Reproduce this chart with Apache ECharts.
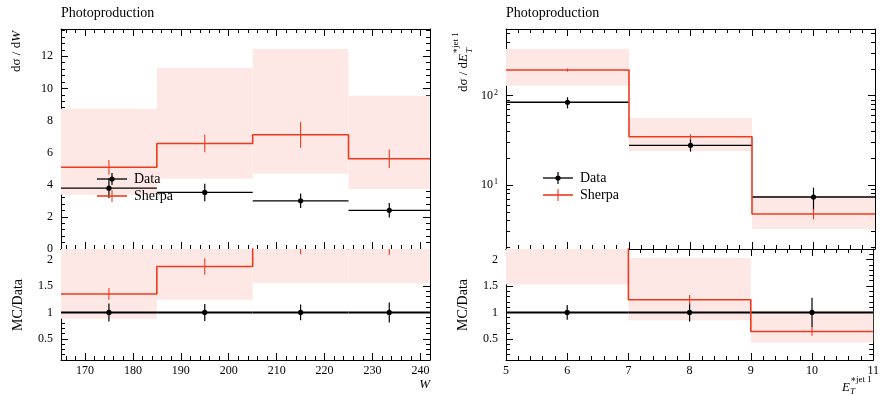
<!DOCTYPE html>
<html>
<head>
<meta charset="utf-8">
<script src="https://cdn.jsdelivr.net/npm/echarts@6.0.0/dist/echarts.min.js"></script>
<style>html,body{margin:0;padding:0;background:#fff;}#c{width:882px;height:395px;}</style>
</head>
<body>
<div id="c"></div>
<script>
// ---------- Left panel: dσ/dW ----------
const W_edges = [165, 185, 205, 225, 242];
const W_centers = [175, 195, 215, 233.5];
const W_data = [3.79, 3.52, 3.00, 2.41];
const W_data_err = [0.62, 0.55, 0.45, 0.45];
const W_sherpa = [5.09, 6.57, 7.11, 5.62];
const W_sherpa_err = [0.45, 0.55, 0.80, 0.58];
const W_band_lo = [3.38, 4.37, 4.68, 3.73];
const W_band_hi = [8.74, 11.27, 12.45, 9.54];
const W_ratio_data_err = [0.17, 0.16, 0.15, 0.19];
const W_ratio_sherpa = [1.35, 1.87, 2.37, 2.33];
const W_ratio_sherpa_err = [0.11, 0.155, 0.27, 0.24];
const W_ratio_band_lo = [0.88, 1.24, 1.55, 1.55];
const W_ratio_band_hi = [2.30, 3.20, 4.10, 3.96];
const W_xticks = [170, 180, 190, 200, 210, 220, 230, 240];
const W_yticks = [0, 2, 4, 6, 8, 10, 12];

// ---------- Right panel: dσ/dE_T ----------
const ET_edges = [5, 7, 9, 11];
const ET_centers = [6, 8, 10];
const ET_data = [84.4, 27.8, 7.34];
const ET_data_lo = [72, 23.6, 5.25];
const ET_data_hi = [96, 32.5, 9.33];
const ET_sherpa = [194, 34.7, 4.73];
const ET_sherpa_lo = [186, 32.5, 4.13];
const ET_sherpa_hi = [202, 37.0, 5.35];
const ET_band_lo = [129, 24.0, 3.21];
const ET_band_hi = [333, 56.3, 7.6];
const ET_ratio_data_err = [0.14, 0.17, 0.28];
const ET_ratio_sherpa = [2.30, 1.24, 0.64];
const ET_ratio_sherpa_err = [0.06, 0.09, 0.08];
const ET_ratio_band_lo = [1.53, 0.85, 0.43];
const ET_ratio_band_hi = [3.90, 2.03, 1.03];
const ET_xticks = [5, 6, 7, 8, 9, 10, 11];
const ET_yticks = [10, 100];

const R_yticks = [0.5, 1, 1.5, 2];

const RED = '#ee3a1c';
const BAND = '#fde8e6';
const FONT = '"Liberation Serif", "DejaVu Serif", serif';

function range(a, b, step, skipEvery) {
  const out = [];
  const n = Math.round((b - a) / step);
  for (let i = 0; i <= n; i++) {
    const v = +(a + i * step).toFixed(6);
    if (skipEvery && Math.abs(v / skipEvery - Math.round(v / skipEvery)) < 1e-6) continue;
    out.push(v);
  }
  return out;
}

const xAxes = [], yAxes = [];
// returns index of the main (first) axis
function addAxes(list, dim, grid, type, min, max, majors, minors, label) {
  const sides = dim === 'x' ? ['bottom', 'top'] : ['left', 'right'];
  let mainIdx = -1;
  sides.forEach((side, si) => {
    const base = { type: type, gridIndex: grid, position: side, min: min, max: max,
      splitLine: { show: false }, axisPointer: { show: false } };
    if (type === 'log') base.logBase = 10;
    const major = Object.assign({}, base, {
      axisLine: { show: true, onZero: false, lineStyle: { color: '#000', width: 1 } },
      axisTick: { show: true, inside: true, length: 7, customValues: majors, lineStyle: { color: '#000', width: 1 } },
      axisLabel: (si === 0 && label) ? label : { show: false }
    });
    const minor = Object.assign({}, base, {
      axisLine: { show: false, onZero: false },
      axisTick: { show: true, inside: true, length: 4, customValues: minors, lineStyle: { color: '#000', width: 1 } },
      axisLabel: { show: false }
    });
    if (si === 0) mainIdx = list.length;
    list.push(major, minor);
  });
  return mainIdx;
}

const labelBase = { show: true, color: '#000', fontFamily: FONT, fontSize: 12 };
const grids = [
  { left: 61, top: 29, width: 369, height: 220 },
  { left: 61, top: 249, width: 369, height: 111 },
  { left: 506, top: 29, width: 369, height: 220 },
  { left: 506, top: 249, width: 369, height: 111 }
];

const fmtNum = v => String(+v.toFixed(2));
const ratioLabel = Object.assign({}, labelBase, { margin: 8, customValues: R_yticks, formatter: fmtNum });

// Left main
const xL0 = addAxes(xAxes, 'x', 0, 'value', 165, 242, W_xticks, range(166, 240, 2, 10), null);
const yL0 = addAxes(yAxes, 'y', 0, 'value', 0, 13.7, W_yticks, range(0, 13.6, 0.4, 2),
  Object.assign({}, labelBase, { margin: 8, customValues: W_yticks, formatter: fmtNum }));
// Left ratio
const xL1 = addAxes(xAxes, 'x', 1, 'value', 165, 242, W_xticks, range(166, 240, 2, 10),
  Object.assign({}, labelBase, { margin: 5, customValues: W_xticks, formatter: fmtNum }));
const yL1 = addAxes(yAxes, 'y', 1, 'value', 0.1, 2.2, R_yticks, range(0.1, 2.2, 0.1, 0.5), ratioLabel);
// Right main
const logMinors = [2,3,4,5,6,7,8,9,20,30,40,50,60,70,80,90,200,300,400,500];
const xR0 = addAxes(xAxes, 'x', 2, 'value', 5, 11, ET_xticks, range(5, 11, 0.2, 1), null);
const yR0 = addAxes(yAxes, 'y', 2, 'log', 1.92, 558, ET_yticks, logMinors,
  Object.assign({}, labelBase, { margin: 8, customValues: ET_yticks,
    formatter: v => '{n|10}{s|' + Math.round(Math.log10(v)) + '}',
    rich: { n: { fontFamily: FONT, fontSize: 12, color: '#000' },
            s: { fontFamily: FONT, fontSize: 8, color: '#000', verticalAlign: 'top', padding: [0, 0, 6, 1] } } }));
// Right ratio
const xR1 = addAxes(xAxes, 'x', 3, 'value', 5, 11, ET_xticks, range(5, 11, 0.2, 1),
  Object.assign({}, labelBase, { margin: 5, customValues: ET_xticks, formatter: fmtNum }));
const yR1 = addAxes(yAxes, 'y', 3, 'value', 0.1, 2.2, R_yticks, range(0.1, 2.2, 0.1, 0.5), ratioLabel);

// ---------- series builders ----------
function bandSeries(xi, yi, edges, lo, hi) {
  return {
    type: 'custom', xAxisIndex: xi, yAxisIndex: yi, clip: true, z: 1, silent: true,
    data: lo.map((l, i) => [edges[i], edges[i + 1], l, hi[i]]),
    renderItem: (p, api) => {
      const a = api.coord([api.value(0), api.value(3)]);
      const b = api.coord([api.value(1), api.value(2)]);
      return { type: 'rect', shape: { x: a[0], y: a[1], width: b[0] - a[0], height: b[1] - a[1] },
        style: { fill: BAND } };
    }
  };
}
function dataSeries(xi, yi, edges, centers, vals, lo, hi, lw) {
  return {
    type: 'custom', xAxisIndex: xi, yAxisIndex: yi, clip: true, z: 3, silent: true,
    data: vals.map((v, i) => [edges[i], edges[i + 1], centers[i], v, lo[i], hi[i]]),
    renderItem: (p, api) => {
      const v = api.value(3), c = api.value(2);
      const h0 = api.coord([api.value(0), v]), h1 = api.coord([api.value(1), v]);
      const e0 = api.coord([c, api.value(4)]), e1 = api.coord([c, api.value(5)]);
      const pc = api.coord([c, v]);
      return { type: 'group', children: [
        { type: 'line', shape: { x1: h0[0], y1: h0[1], x2: h1[0], y2: h1[1] }, style: { stroke: '#000', lineWidth: lw } },
        { type: 'line', shape: { x1: e0[0], y1: e0[1], x2: e1[0], y2: e1[1] }, style: { stroke: '#000', lineWidth: 1.2 } },
        { type: 'circle', shape: { cx: pc[0], cy: pc[1], r: 2.6 }, style: { fill: '#000' } }
      ] };
    }
  };
}
function stepSeries(xi, yi, edges, vals) {
  const pts = vals.map((v, i) => [edges[i], v]);
  pts.push([edges[edges.length - 1], vals[vals.length - 1]]);
  return { type: 'line', xAxisIndex: xi, yAxisIndex: yi, step: 'end', data: pts, showSymbol: false,
    symbol: 'none', clip: true, z: 4, silent: true, animation: false,
    lineStyle: { color: RED, width: 1.6 } };
}
function errSeries(xi, yi, centers, lo, hi) {
  return {
    type: 'custom', xAxisIndex: xi, yAxisIndex: yi, clip: true, z: 4, silent: true,
    data: centers.map((c, i) => [c, lo[i], hi[i]]),
    renderItem: (p, api) => {
      const a = api.coord([api.value(0), api.value(1)]), b = api.coord([api.value(0), api.value(2)]);
      return { type: 'line', shape: { x1: a[0], y1: a[1], x2: b[0], y2: b[1] }, style: { stroke: RED, lineWidth: 1.1 } };
    }
  };
}
const sub = (a, e) => a.map((v, i) => v - e[i]);
const add = (a, e) => a.map((v, i) => v + e[i]);
const ones = n => new Array(n).fill(1);

const series = [
  // left main
  bandSeries(xL0, yL0, W_edges, W_band_lo, W_band_hi),
  dataSeries(xL0, yL0, W_edges, W_centers, W_data, sub(W_data, W_data_err), add(W_data, W_data_err), 1.3),
  stepSeries(xL0, yL0, W_edges, W_sherpa),
  errSeries(xL0, yL0, W_centers, sub(W_sherpa, W_sherpa_err), add(W_sherpa, W_sherpa_err)),
  // left ratio
  bandSeries(xL1, yL1, W_edges, W_ratio_band_lo, W_ratio_band_hi),
  dataSeries(xL1, yL1, W_edges, W_centers, ones(4), sub(ones(4), W_ratio_data_err), add(ones(4), W_ratio_data_err), 2),
  stepSeries(xL1, yL1, W_edges, W_ratio_sherpa),
  errSeries(xL1, yL1, W_centers, sub(W_ratio_sherpa, W_ratio_sherpa_err), add(W_ratio_sherpa, W_ratio_sherpa_err)),
  // right main
  bandSeries(xR0, yR0, ET_edges, ET_band_lo, ET_band_hi),
  dataSeries(xR0, yR0, ET_edges, ET_centers, ET_data, ET_data_lo, ET_data_hi, 1.3),
  stepSeries(xR0, yR0, ET_edges, ET_sherpa),
  errSeries(xR0, yR0, ET_centers, ET_sherpa_lo, ET_sherpa_hi),
  // right ratio
  bandSeries(xR1, yR1, ET_edges, ET_ratio_band_lo, ET_ratio_band_hi),
  dataSeries(xR1, yR1, ET_edges, ET_centers, ones(3), sub(ones(3), ET_ratio_data_err), add(ones(3), ET_ratio_data_err), 2),
  stepSeries(xR1, yR1, ET_edges, ET_ratio_sherpa),
  errSeries(xR1, yR1, ET_centers, sub(ET_ratio_sherpa, ET_ratio_sherpa_err), add(ET_ratio_sherpa, ET_ratio_sherpa_err))
];

// ---------- text & legends ----------
const T = (x, y, text, o) => ({ type: 'text', x: x, y: y, z: 100, silent: true,
  style: Object.assign({ text: text, fill: '#000', font: '14px ' + FONT, align: 'left', verticalAlign: 'middle' }, o || {}) });
function legend(x0, y0, y1) {
  const xc = x0 + 15;
  return [
    { type: 'line', z: 100, shape: { x1: x0, y1: y0, x2: x0 + 30, y2: y0 }, style: { stroke: '#000', lineWidth: 1.3 } },
    { type: 'line', z: 100, shape: { x1: xc, y1: y0 - 6, x2: xc, y2: y0 + 6 }, style: { stroke: '#000', lineWidth: 1.2 } },
    { type: 'circle', z: 100, shape: { cx: xc, cy: y0, r: 2.6 }, style: { fill: '#000' } },
    T(x0 + 37, y0, 'Data'),
    { type: 'line', z: 100, shape: { x1: x0, y1: y1, x2: x0 + 30, y2: y1 }, style: { stroke: RED, lineWidth: 1.6 } },
    { type: 'line', z: 100, shape: { x1: xc, y1: y1 - 6, x2: xc, y2: y1 + 6 }, style: { stroke: RED, lineWidth: 1.1 } },
    T(x0 + 37, y1, 'Sherpa')
  ];
}
const rot = Math.PI / 2;
const graphics = [
  T(61, 13, 'Photoproduction'),
  T(506, 13, 'Photoproduction'),
  ...legend(97, 179, 196),
  ...legend(543, 178, 195),
  // left y label
  { type: 'text', x: 17, y: 31, rotation: rot, z: 100, silent: true,
    style: { text: '{r|dσ / d}{i|W}', align: 'right', verticalAlign: 'middle',
      rich: { r: { font: '13px ' + FONT, fill: '#000' }, i: { font: 'italic 13px ' + FONT, fill: '#000' } } } },
  // left ratio label
  { type: 'text', x: 18, y: 305, rotation: rot, z: 100, silent: true,
    style: { text: 'MC/Data', font: '14px ' + FONT, fill: '#000', align: 'center', verticalAlign: 'middle' } },
  // right y label
  { type: 'text', x: 464, y: 54, rotation: rot, z: 100, silent: true,
    style: { text: '{r|dσ / d}{i|E}', align: 'right', verticalAlign: 'middle',
      rich: { r: { font: '13px ' + FONT, fill: '#000' }, i: { font: 'italic 13px ' + FONT, fill: '#000' } } } },
  { type: 'text', x: 470, y: 53, rotation: rot, z: 100, silent: true,
    style: { text: 'T', font: 'italic 9px ' + FONT, fill: '#000', align: 'left', verticalAlign: 'middle' } },
  { type: 'text', x: 456, y: 54, rotation: rot, z: 100, silent: true,
    style: { text: '∗jet 1', font: '9px ' + FONT, fill: '#000', align: 'left', verticalAlign: 'middle' } },
  // right ratio label
  { type: 'text', x: 463, y: 305, rotation: rot, z: 100, silent: true,
    style: { text: 'MC/Data', font: '14px ' + FONT, fill: '#000', align: 'center', verticalAlign: 'middle' } },
  // x axis names
  T(430, 385, 'W', { align: 'right', font: 'italic 13px ' + FONT }),
  T(842, 388, 'E', { font: 'italic 13px ' + FONT }),
  T(850, 392, 'T', { font: 'italic 9px ' + FONT }),
  T(850, 380, '∗jet 1', { font: '9px ' + FONT })
];

const chart = echarts.init(document.getElementById('c'), null, { renderer: 'canvas' });
chart.setOption({
  animation: false,
  backgroundColor: '#fff',
  grid: grids,
  xAxis: xAxes,
  yAxis: yAxes,
  series: series,
  graphic: graphics
});
</script>
</body>
</html>
